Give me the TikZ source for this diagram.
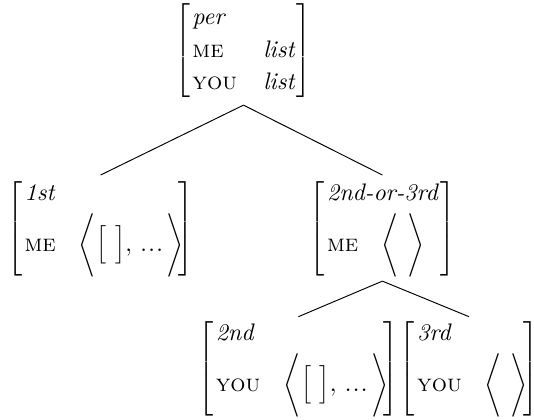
\documentclass[tikz,border=0pt]{standalone}
\usepackage{amsmath}
\usepackage{graphicx}
% a square bracket of a fixed total height, centred on the math axis
\newcommand{\sbrack}[2]{\vcenter{\hbox{\resizebox*{!}{#2}{$\nulldelimiterspace=0pt\left#1\vcenter{\hbox{\vrule height 20pt depth 20pt width 0pt}}\right.$}}}}
\newcommand{\topavm}[1]{{\renewcommand{\arraystretch}{1.146}\sbrack{[}{38.9pt}\begin{array}{@{\hspace{1pt}}l@{\hspace{11pt}}l@{\hspace{1pt}}}#1\end{array}\sbrack{]}{38.9pt}}}
\newcommand{\subavm}[1]{{\renewcommand{\arraystretch}{1}\sbrack{[}{39.5pt}\begin{array}{@{\hspace{1pt}}l@{\hspace{9.5pt}}l@{\hspace{-2pt}}}#1\end{array}\sbrack{]}{39.5pt}}}
\newcommand{\typrow}[1]{\multicolumn{2}{@{\hspace{1pt}}l@{\hspace{1pt}}}{\textit{#1}}}
\newcommand{\feat}[1]{\textsc{#1}}
\newcommand{\typ}[1]{\textit{#1}}
\newcommand{\angdelim}[1]{\vcenter{\hbox{\scalebox{0.885}{$\Biggl#1$}}}}
\newcommand{\sqdelim}[1]{\vcenter{\hbox{\scalebox{0.89}{$\Bigl#1$}}}}
\newcommand{\tightdots}{.\kern0.6pt.\kern0.6pt.}
\newcommand{\fulllist}{\angdelim{\langle}\kern0.5pt\sqdelim{[}\kern3.5pt\sqdelim{]}{,}\kern3.5pt\tightdots\kern1.5pt\angdelim{\rangle}}
\newcommand{\emptylist}{\angdelim{\langle}\kern3.9pt\angdelim{\rangle}}
\begin{document}
\begin{tikzpicture}[x=0.418pt,y=-0.418pt,
  avm/.style={inner sep=0pt, outer sep=0pt},
  branch/.style={line width=0.4pt}]
\useasboundingbox (0,0) rectangle (534,419);
\node[avm] (per) at (243.5,50.5) {$\topavm{\typ{per} & \\ \feat{me} & \typ{list}\\ \feat{you} & \typ{list}}$};
\node[avm] (first) at (100.6,228.9) {$\subavm{\typrow{1st} \\[1.6pt] \feat{me} & \fulllist}$};
\node[avm] (secthird) at (382.4,228.9) {$\subavm{\typrow{2nd-or-3rd} \\[1.6pt] \feat{me} & \emptylist}$};
\node[avm] (second) at (298.4,368.9) {$\subavm{\typrow{2nd} \\[1.6pt] \feat{you} & \fulllist}$};
\node[avm] (third) at (469,368.9) {$\subavm{\typrow{3rd} \\[1.6pt] \feat{you} & \emptylist}$};
\draw[branch] ([yshift=-2.2pt]per.south) -- ([yshift=2.45pt]first.north);
\draw[branch] ([yshift=-2.2pt]per.south) -- ([yshift=2.45pt]secthird.north);
\draw[branch] ([yshift=-1.75pt]secthird.south) -- ([yshift=1.75pt]second.north);
\draw[branch] ([yshift=-1.75pt]secthird.south) -- ([yshift=1.75pt]third.north);
\end{tikzpicture}
\end{document}
